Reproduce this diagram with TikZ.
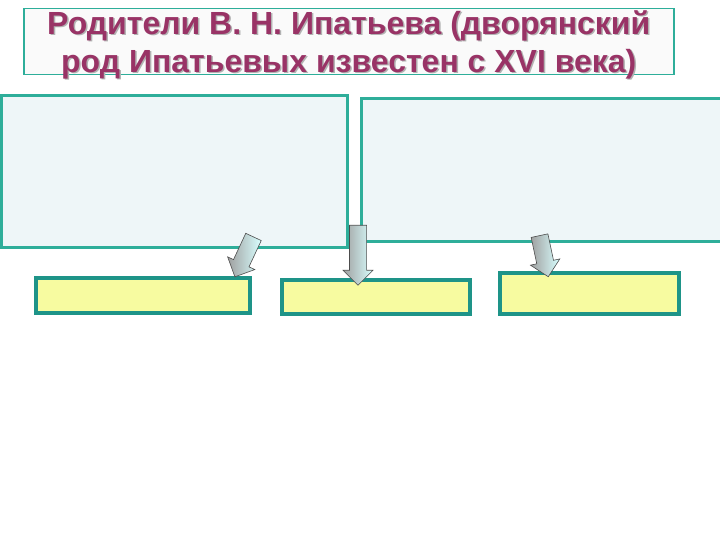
\documentclass[tikz,border=0pt]{standalone}
\usepackage{fontspec}
\setmainfont{Liberation Sans}
\usetikzlibrary{shapes.arrows,shadings}
\definecolor{teal1}{HTML}{2EAE9A}
\definecolor{tealD}{HTML}{1E9488}
\definecolor{bluef}{HTML}{EEF6F8}
\definecolor{yel}{HTML}{F7FBA0}
\definecolor{titc}{HTML}{993366}
\tikzset{
 bigbox/.style={draw=teal1,line width=3pt,fill=bluef},
 smallbox/.style={draw=tealD,line width=4pt,fill=yel},
 arr/.style={single arrow,draw=black!70,line width=0.6pt,left color=gray!75,right color=cyan!15!white,minimum width=30pt,single arrow head extend=4pt,single arrow head indent=0pt,inner sep=5pt,anchor=center},
 ttl/.style={font=\bfseries\fontsize{32}{38}\selectfont,align=center}
}
\begin{document}
\begin{tikzpicture}[x=1pt,y=-1pt]
\useasboundingbox (0,0) rectangle (720,540);
\fill[white] (0,0) rectangle (720,540);
\node[draw=teal1,line width=1.5pt,fill=white!96!gray,minimum width=650pt,minimum height=66pt,anchor=north west] (title) at (23,8) {};
\node[ttl,text=gray!60] at ([xshift=1.5pt,yshift=-5.5pt]title.center) {\scalebox{1.0}[1]{\begin{tabular}{c}Родители В. Н. Ипатьева (дворянский\\род Ипатьевых известен с XVI века)\end{tabular}}};
\node[ttl,text=titc] (ttext) at ([yshift=-4pt]title.center) {\scalebox{1.0}[1]{\begin{tabular}{c}Родители В. Н. Ипатьева (дворянский\\род Ипатьевых известен с XVI века)\end{tabular}}};
\draw[bigbox] (1,96) rectangle (347,247);
\draw[bigbox] (361,99) rectangle (721,241);
\draw[smallbox] (36,278) rectangle (250,313);
\draw[smallbox] (282,280) rectangle (470,314);
\draw[smallbox] (500,273) rectangle (679,314);
\node[arr,minimum height=44pt,rotate=-115] (a1) at (246,253) {};
\node[arr,minimum height=60pt,rotate=-90] (a2) at (358,251) {};
\node[arr,minimum height=42pt,rotate=-78] (a3) at (543,252) {};
\end{tikzpicture}
\end{document}
